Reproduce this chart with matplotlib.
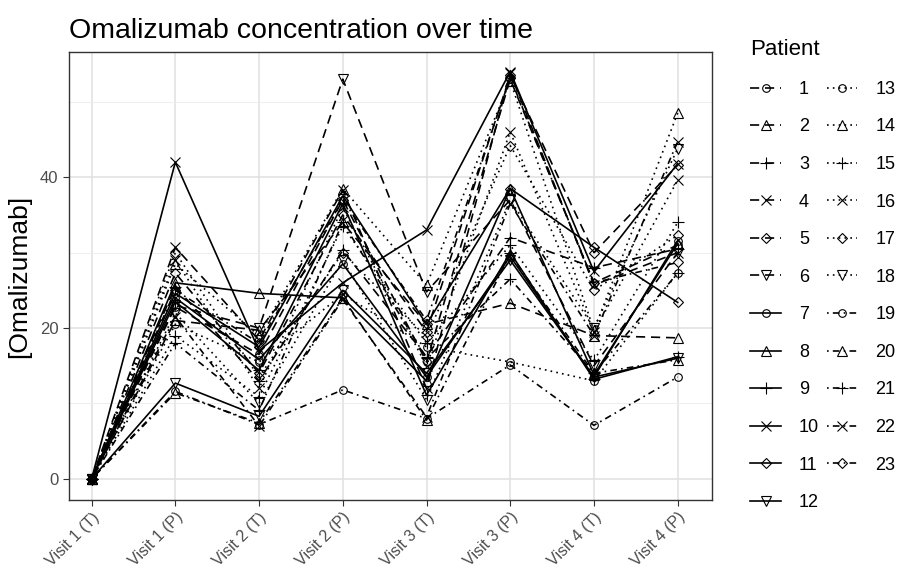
"""Omalizumab concentration per patient across visits (trough / peak)."""
import matplotlib
matplotlib.use("Agg")
import matplotlib.pyplot as plt
from matplotlib.lines import Line2D

plt.rcParams["font.family"] = ["Liberation Sans", "DejaVu Sans"]

visits = ["Visit 1 (T)", "Visit 1 (P)", "Visit 2 (T)", "Visit 2 (P)",
          "Visit 3 (T)", "Visit 3 (P)", "Visit 4 (T)", "Visit 4 (P)"]
patients = [str(i) for i in range(1, 24)]

# one row per patient, one column per visit
p01 = [0, 22.8, 16.5, 37.0, 15.5, 53.0, 26.0, 31.0]
p02 = [0, 21.0, 19.7, 34.0, 20.5, 23.3, 19.0, 18.7]
p03 = [0, 25.5, 13.0, 30.3, 16.2, 32.0, 28.0, 30.5]
p04 = [0, 30.7, 18.4, 38.3, 12.0, 53.8, 25.7, 30.0]
p05 = [0, 27.3, 14.0, 35.0, 19.5, 53.5, 30.0, 41.6]
p06 = [0, 23.0, 20.0, 53.0, 24.8, 37.0, 15.0, 30.0]
p07 = [0, 24.0, 15.8, 28.5, 13.5, 29.5, 13.5, 31.6]
p08 = [0, 26.0, 24.6, 24.0, 13.0, 38.5, 13.8, 31.2]
p09 = [0, 23.5, 14.4, 36.5, 11.1, 30.0, 13.2, 16.2]
p10 = [0, 42.0, 17.0, 26.0, 33.0, 54.0, 27.5, 41.8]
p11 = [0, 24.6, 17.5, 37.5, 20.5, 38.5, 30.7, 23.4]
p12 = [0, 12.7, 8.3, 25.0, 14.0, 29.0, 13.5, 16.0]
p13 = [0, 20.5, 15.5, 24.5, 17.5, 15.5, 13.0, 27.3]
p14 = [0, 28.5, 19.0, 38.5, 25.7, 52.8, 19.7, 48.5]
p15 = [0, 19.0, 10.9, 33.5, 18.0, 31.0, 15.7, 34.0]
p16 = [0, 29.0, 12.0, 36.0, 15.0, 46.0, 19.5, 39.6]
p17 = [0, 30.0, 13.5, 30.0, 18.8, 44.2, 25.0, 32.3]
p18 = [0, 22.0, 10.0, 29.0, 10.5, 37.0, 20.0, 43.8]
p19 = [0, 11.6, 7.2, 11.8, 8.0, 15.1, 7.1, 13.5]
p20 = [0, 11.4, 7.4, 24.0, 7.8, 29.8, 14.0, 15.8]
p21 = [0, 18.0, 9.1, 34.0, 16.0, 26.5, 14.0, 27.3]
p22 = [0, 21.5, 7.0, 23.8, 8.2, 36.5, 19.0, 44.7]
p23 = [0, 25.0, 18.0, 37.0, 21.0, 53.2, 26.0, 28.7]
series = [p01, p02, p03, p04, p05, p06, p07, p08, p09, p10, p11, p12,
          p13, p14, p15, p16, p17, p18, p19, p20, p21, p22, p23]

# shapes cycle every 6 patients, line type changes per block
shapes = ["o", "^", "+", "x", "D", "v"]
msize = {"o": 5.5, "^": 7, "+": 8, "x": 6.5, "D": 5.5, "v": 7}


def dash_for(i):
    if i < 6:
        return (0, (5.5, 3.5))
    if i < 12:
        return "-"
    if i < 18:
        return (0, (1, 2.5))
    return (0, (1, 2.5, 4, 2.5))


fig = plt.figure(figsize=(8.98, 5.71), dpi=100)
ax = fig.add_axes([69 / 898, 1 - 500 / 571, (712 - 69) / 898, (500 - 52) / 571])

x = list(range(len(visits)))
handles = []
for i, (pid, vals) in enumerate(zip(patients, series)):
    mk = shapes[i % 6]
    ls = dash_for(i)
    ax.plot(x, vals, color="black", lw=1.2, linestyle=ls, marker=mk,
            markersize=msize[mk], markerfacecolor="none",
            markeredgecolor="black", markeredgewidth=0.8)
    handles.append(Line2D([0], [0], color="black", lw=1.2, linestyle=ls,
                          marker=mk, markersize=msize[mk],
                          markerfacecolor="none", markeredgewidth=0.8,
                          label=pid))

ax.set_xlim(-0.27, 7.41)
ax.set_ylim(-2.8, 56.6)
ax.set_xticks(x)
ax.set_xticklabels(visits, rotation=45, ha="right", va="top",
                   rotation_mode="anchor", fontsize=11.5, color="#4d4d4d")
ax.set_yticks([0, 20, 40])
ax.set_yticks([10, 30, 50], minor=True)
ax.tick_params(axis="y", which="major", labelsize=12, labelcolor="#4d4d4d",
               length=4, color="#333333")
ax.tick_params(axis="y", which="minor", length=0)
ax.tick_params(axis="x", length=4, color="#333333", pad=3)
ax.grid(True, which="major", color="#e0e0e0", lw=1.1)
ax.grid(True, which="minor", axis="y", color="#ebebeb", lw=0.6)
ax.set_axisbelow(True)
for s in ax.spines.values():
    s.set_color("#333333")
    s.set_linewidth(1.0)

ax.set_ylabel("[Omalizumab]", fontsize=19, labelpad=6)
ax.set_title("Omalizumab concentration over time", fontsize=20.5,
             loc="left", pad=10)

leg = fig.legend(handles=handles, ncol=2, loc="upper left",
                 bbox_to_anchor=(734 / 898, 1 - 23 / 571), frameon=False,
                 title="Patient", title_fontsize=16, fontsize=13,
                 handlelength=1.7, handletextpad=1.0, columnspacing=0.42,
                 labelspacing=1.14)
leg._legend_box.align = "left"

fig.savefig("out.png", dpi=100)
